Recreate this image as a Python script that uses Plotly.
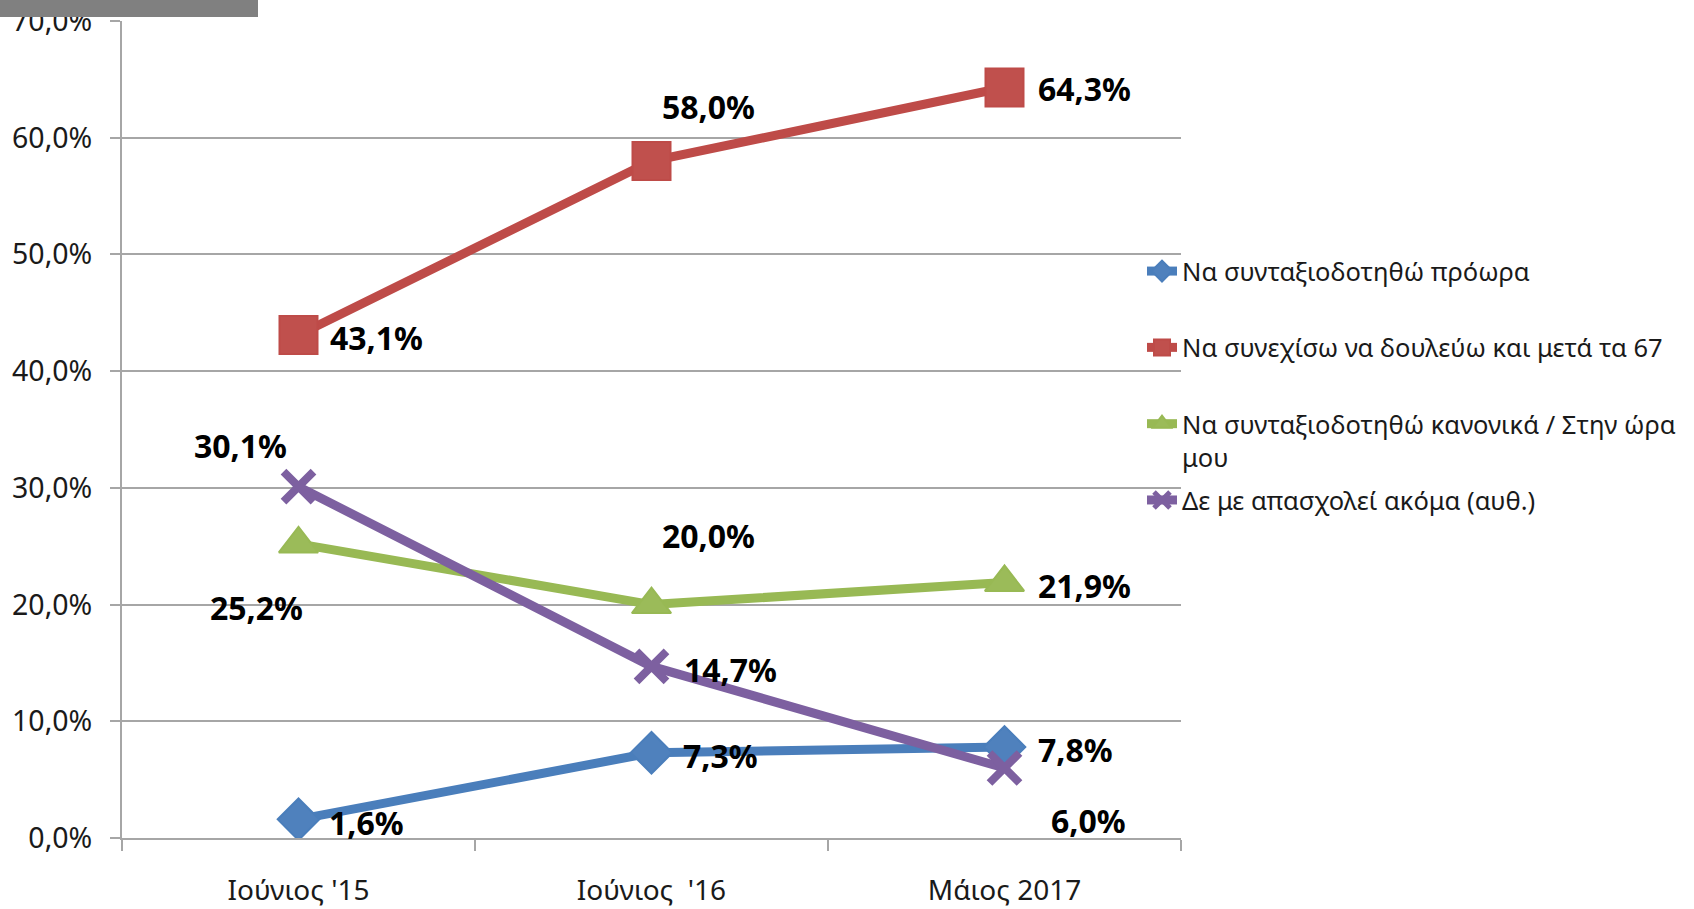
import plotly.graph_objects as go

# ---- data ----
categories = ["Ιούνιος '15", "Ιούνιος  '16", "Μάιος 2017"]
series_names = [
    "Να συνταξιοδοτηθώ πρόωρα",
    "Να συνεχίσω να δουλεύω και μετά τα 67",
    "Να συνταξιοδοτηθώ κανονικά / Στην ώρα<br>μου",
    "Δε με απασχολεί ακόμα (αυθ.)",
]
early = [1.6, 7.3, 7.8]
continue_work = [43.1, 58.0, 64.3]
normal = [25.2, 20.0, 21.9]
not_concerned = [30.1, 14.7, 6.0]
y_ticks = [0, 10, 20, 30, 40, 50, 60, 70]

all_values = [early, continue_work, normal, not_concerned]

# ---- styles ----
line_colors = ["#4A7EBB", "#BE4B48", "#98B954", "#7D60A0"]
fill_colors = ["#4F81BD", "#C0504D", "#9BBB59", "#8064A2"]
symbols = ["diamond", "square", "triangle-up", "x-thin"]
msizes = [32, 38, 34, 30]
# label placement per point: (xanchor, xshift, yshift)
label_pos = [
    [("left", 28, -3), ("left", 29, -3), ("left", 31, -3)],
    [("left", 29, -3), ("center", 57, 55), ("left", 31, -1)],
    [("center", -42, -64), ("center", 57, 69), ("left", 31, -3)],
    [("center", -58, 41), ("left", 30, -3), ("center", 84, -53)],
]

FONT = "Noto Sans, DejaVu Sans, sans-serif"
W, H = 1694, 909
L, R, T, B = 122, 513, 21, 71


def fmt(v):
    return f"{v:.1f}".replace(".", ",") + "%"


fig = go.Figure()
for i, vals in enumerate(all_values):
    name = series_names[i]
    if "<br>" not in name and i < 3:
        name = name + "<br> "
    if symbols[i] == "x-thin":
        marker = dict(symbol="x-thin", size=msizes[i],
                      line=dict(color=line_colors[i], width=8), color=line_colors[i])
    else:
        marker = dict(symbol=symbols[i], size=msizes[i], color=fill_colors[i],
                      line=dict(color=line_colors[i], width=2))
    fig.add_trace(go.Scatter(
        x=categories, y=vals, name=name, mode="lines+markers",
        legendgroup=f"g{i}",
        line=dict(color=line_colors[i], width=9),
        marker=marker,
    ))

annotations = []
for i, vals in enumerate(all_values):
    for j, v in enumerate(vals):
        xa, xs, ys = label_pos[i][j]
        annotations.append(dict(
            x=categories[j], y=v, xref="x", yref="y", text=fmt(v),
            showarrow=False, xanchor=xa, yanchor="middle",
            xshift=xs, yshift=ys,
            font=dict(family=FONT, size=32, color="#000000", weight="bold"),
        ))

plot_h = H - T - B
plot_w = W - L - R
fig.update_layout(
    width=W, height=H,
    margin=dict(l=L, r=R, t=T, b=B, pad=0, autoexpand=False),
    paper_bgcolor="white", plot_bgcolor="white",
    font=dict(family=FONT, size=27, color="#1a1a1a"),
    showlegend=True,
    legend=dict(
        x=(1142 - L) / plot_w, xanchor="left",
        y=(H - B - 248) / plot_h, yanchor="top",
        font=dict(family=FONT, size=25.5, color="#1a1a1a"),
        valign="top", itemsizing="trace", bgcolor="rgba(0,0,0,0)",
        tracegroupgap=7, borderwidth=0,
    ),
    annotations=annotations,
    shapes=[dict(type="rect", xref="paper", yref="paper",
                 x0=(0 - L) / plot_w, x1=(258 - L) / plot_w,
                 y0=(H - B - 17) / plot_h, y1=(H - B + 5) / plot_h,
                 fillcolor="#808080", line=dict(width=0), layer="above")],
)
fig.update_xaxes(
    type="category", range=[-0.5, 2.5], automargin=False,
    showline=True, linecolor="#a6a6a6", linewidth=2,
    ticks="outside", tickson="boundaries", ticklen=11, tickcolor="#a6a6a6", tickwidth=2,
    showgrid=False, zeroline=False,
    tickfont=dict(family=FONT, size=28, color="#1a1a1a"),
    ticklabelstandoff=26,
)
fig.update_yaxes(
    range=[0, 70], tickvals=y_ticks, ticktext=[fmt(v) for v in y_ticks],
    automargin=False,
    showline=True, linecolor="#a6a6a6", linewidth=2,
    ticks="outside", ticklen=10, tickcolor="#a6a6a6", tickwidth=2,
    showgrid=True, gridcolor="#a6a6a6", gridwidth=1.5, zeroline=False,
    tickfont=dict(family=FONT, size=28.5, color="#1a1a1a"),
    ticklabelstandoff=12,
)

fig.write_html(
    "out.html",
    config={"displayModeBar": False},
    post_script="document.body.style.margin='0';document.body.style.overflow='hidden';",
)
